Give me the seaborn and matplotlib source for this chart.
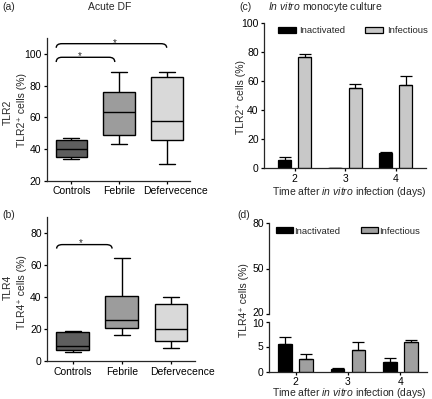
import numpy as np
import pandas as pd
import seaborn as sns
import matplotlib.pyplot as plt
from matplotlib.path import Path
from matplotlib.patches import PathPatch
from matplotlib.transforms import ScaledTranslation

# panels (a)/(b): min, q1, median, q3, max of each box
groups = ['Controls', 'Febrile', 'Defervecence']
box_colors = ['#5e5e5e', '#9c9c9c', '#d9d9d9']
tlr2_controls = [34.0, 34.7, 40.2, 45.7, 46.7]
tlr2_febrile = [43.3, 49.0, 63.4, 75.8, 89.0]
tlr2_deferv = [30.4, 45.5, 57.8, 85.3, 88.7]
tlr4_controls = [5.8, 6.9, 9.2, 17.9, 18.8]
tlr4_febrile = [16.3, 20.4, 25.4, 40.8, 64.8]
tlr4_deferv = [8.3, 12.5, 20.0, 35.4, 39.8]

# panels (c)/(d): mean and upper error per day
days = ['2', '3', '4']
conditions = ['Inactivated', 'Infectious']
tlr2_inact = [5.8, 0.3, 10.3]
tlr2_inact_err = [2.0, 0.0, 0.6]
tlr2_inf = [76.2, 55.0, 57.5]
tlr2_inf_err = [2.3, 2.7, 6.0]
tlr4_inact = [5.5, 0.5, 1.9]
tlr4_inact_err = [1.4, 0.15, 0.9]
tlr4_inf = [2.5, 4.3, 6.0]
tlr4_inf_err = [1.1, 1.6, 0.3]

sns.set_style('ticks')
plt.rcParams['font.family'] = ['Liberation Sans', 'DejaVu Sans']
plt.rcParams['mathtext.fontset'] = 'custom'
plt.rcParams['mathtext.rm'] = 'Liberation Sans'
plt.rcParams['mathtext.it'] = 'Liberation Sans:italic'
plt.rcParams['font.size'] = 7.5
plt.rcParams['axes.linewidth'] = 0.9
for k in ['xtick', 'ytick']:
    plt.rcParams[k + '.major.size'] = 2.5
    plt.rcParams[k + '.major.width'] = 0.9
    plt.rcParams[k + '.major.pad'] = 1.5
    plt.rcParams[k + '.labelsize'] = 7.5
    plt.rcParams[k + '.color'] = 'black'

W, H = 432, 399
fig = plt.figure(figsize=(W / 100, H / 100), dpi=100)


def rect(x0, y0, x1, y1):
    return [x0 / W, 1 - y1 / H, (x1 - x0) / W, (y1 - y0) / H]


def nudge(label, dx=0, dy=0):
    # shift a tick label by a few pixels
    label.set_transform(label.get_transform() + ScaledTranslation(dx / 100, dy / 100, fig.dpi_scale_trans))


def draw_box(ax, values, ylim, ticks):
    df = pd.DataFrame({'group': np.repeat(groups, 5), 'value': np.concatenate(values)})
    sns.boxplot(data=df, x='group', y='value', hue='group', palette=box_colors,
                whis=(0, 100), width=0.67, linewidth=1.0, linecolor='black',
                legend=False, ax=ax)
    ax.set_xlim(-0.52, 2.49)
    ax.set_ylim(*ylim)
    ax.set_yticks(ticks)
    ax.set_xlabel('')
    ax.set_ylabel('')
    sns.despine(ax=ax)


def draw_bars(ax, inact, inact_err, inf, inf_err, colors):
    df = pd.DataFrame({'day': days * 2, 'condition': np.repeat(conditions, 3),
                       'value': inact + inf})
    sns.barplot(data=df, x='day', y='value', hue='condition', palette=colors,
                width=0.8, gap=0.34, edgecolor='black', linewidth=0.9,
                errorbar=None, legend=False, ax=ax)
    bars = list(ax.containers)[:2]
    for cont, err in zip(bars, [inact_err, inf_err]):
        xs = [p.get_x() + p.get_width() / 2 for p in cont]
        ys = [p.get_height() for p in cont]
        ax.errorbar(xs, ys, yerr=[np.zeros(len(err)), err], fmt='none', ecolor='black',
                    elinewidth=0.9, capsize=4.5, capthick=0.9)
    ax.set_xlabel('')
    ax.set_ylabel('')
    sns.despine(ax=ax)
    return bars


def bracket(ax, x1, x2, y, drop, r=0.12):
    verts = [(x1, y - drop), (x1, y), (x1 + r, y), (x2 - r, y), (x2, y), (x2, y - drop)]
    codes = [Path.MOVETO, Path.CURVE3, Path.CURVE3, Path.LINETO, Path.CURVE3, Path.CURVE3]
    ax.add_patch(PathPatch(Path(verts, codes), fill=False, edgecolor='black',
                           lw=1.0, clip_on=False))


# (a)
ax_a = fig.add_axes(rect(46.7, 38.3, 190, 180.7))
draw_box(ax_a, [tlr2_controls, tlr2_febrile, tlr2_deferv], (20, 110), [20, 40, 60, 80, 100])
bracket(ax_a, -0.32, 2.0, 106.6, 2.6)
bracket(ax_a, -0.32, 0.91, 98, 3)
ax_a.text(0.91, 105.4, '*', ha='center', va='baseline', fontsize=7)
ax_a.text(0.17, 96.8, '*', ha='center', va='baseline', fontsize=7)
nudge(ax_a.get_xticklabels()[2], dx=9)

# (b)
ax_b = fig.add_axes(rect(47.3, 217.3, 195, 361))
draw_box(ax_b, [tlr4_controls, tlr4_febrile, tlr4_deferv], (0, 90), [0, 20, 40, 60, 80])
bracket(ax_b, -0.33, 0.8, 72.9, 2.5)
ax_b.text(0.17, 71.8, '*', ha='center', va='baseline', fontsize=7)
nudge(ax_b.get_xticklabels()[2], dx=12)

# (c)
ax_c = fig.add_axes(rect(264.3, 22.7, 426, 168.3))
bars_c = draw_bars(ax_c, tlr2_inact, tlr2_inact_err, tlr2_inf, tlr2_inf_err, ['black', '#c8c8c8'])
ax_c.set_xlim(-0.6, 2.6)
ax_c.set_ylim(0, 100)
ax_c.set_yticks([0, 20, 40, 60, 80, 100])
ax_c.legend([b.patches[0] for b in bars_c], conditions, loc='center left',
            bbox_to_anchor=(0.087, 0.943), ncol=2, frameon=False, handlelength=1.9,
            handleheight=0.6, handletextpad=0.35, columnspacing=2.1,
            borderaxespad=0, borderpad=0, fontsize=6.8)

# (d) broken axis
ax_dt = fig.add_axes(rect(269.3, 222.7, 426.7, 314.3))
ax_db = fig.add_axes(rect(269.3, 321.5, 426.7, 371.5))
bars_d = draw_bars(ax_db, tlr4_inact, tlr4_inact_err, tlr4_inf, tlr4_inf_err, ['black', '#a0a0a0'])
ax_db.set_xlim(-0.5, 2.5)
ax_db.set_ylim(0, 10)
ax_db.set_yticks([0, 5, 10])
ax_dt.set_xlim(-0.5, 2.5)
ax_dt.set_ylim(20, 80)
ax_dt.set_yticks([20, 50, 80])
ax_dt.set_xticks([])
sns.despine(ax=ax_dt, bottom=True)
nudge(ax_dt.get_yticklabels()[0], dy=2)
nudge(ax_db.get_yticklabels()[2], dy=-1.5)
ax_dt.legend([b.patches[0] for b in bars_d], conditions, loc='center left',
             bbox_to_anchor=(0.043, 0.909), ncol=2, frameon=False, handlelength=1.8,
             handleheight=0.6, handletextpad=0.1, columnspacing=2.2,
             borderaxespad=0, borderpad=0, fontsize=6.8)

# labels
fig.text(2 / W, 1 - 7 / H, '(a)', va='center')
fig.text(110 / W, 1 - 7 / H, 'Acute DF', ha='center', va='center')
fig.text(8 / W, 1 - 112 / H, 'TLR2', rotation=90, ha='center', va='center')
fig.text(22 / W, 1 - 110 / H, 'TLR2⁺ cells (%)', rotation=90, ha='center', va='center')
fig.text(2 / W, 1 - 215 / H, '(b)', va='center')
fig.text(8 / W, 1 - 287.5 / H, 'TLR4', rotation=90, ha='center', va='center')
fig.text(22 / W, 1 - 292.5 / H, 'TLR4⁺ cells (%)', rotation=90, ha='center', va='center')
fig.text(239 / W, 1 - 7 / H, '(c)', va='center')
fig.text(268.3 / W, 1 - 7 / H, r'$\it{In\ vitro}$ monocyte culture', va='center')
fig.text(241 / W, 1 - 97 / H, 'TLR2⁺ cells (%)', rotation=90, ha='center', va='center')
fig.text(349 / W, 1 - 191.7 / H, r'Time after $\it{in\ vitro}$ infection (days)',
         ha='center', va='center')
fig.text(237.7 / W, 1 - 215 / H, '(d)', va='center')
fig.text(243.7 / W, 1 - 300 / H, 'TLR4⁺ cells (%)', rotation=90, ha='center', va='center')
fig.text(349 / W, 1 - 392.7 / H, r'Time after $\it{in\ vitro}$ infection (days)',
         ha='center', va='center')

fig.savefig('out.png', dpi=100)
